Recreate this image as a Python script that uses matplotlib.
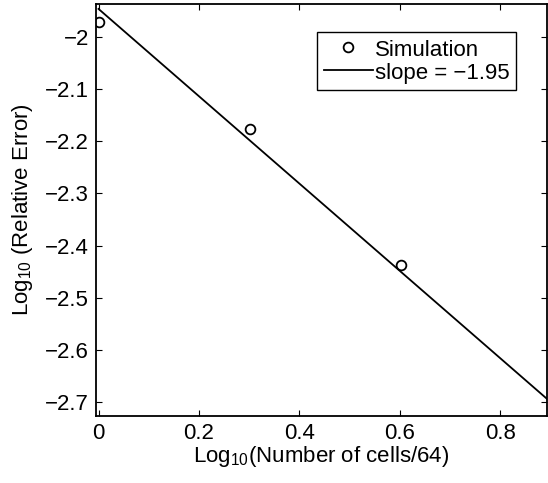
import numpy as np
import matplotlib
matplotlib.use('Agg')
import matplotlib.pyplot as plt

plt.rcParams['font.family'] = ['Liberation Sans', 'DejaVu Sans']
plt.rcParams['mathtext.fontset'] = 'custom'
plt.rcParams['mathtext.rm'] = 'Liberation Sans'
plt.rcParams['mathtext.it'] = 'Liberation Sans:italic'

# simulation points: log10(cells/64) vs log10(relative error)
sim_x = [0.0, 0.301, 0.602]
sim_y = [-1.971, -2.177, -2.438]

# fitted line as drawn in the figure
fit_x = [0.0, 0.9]
fit_y = [-1.946, -2.700]

xticks = [0, 0.2, 0.4, 0.6, 0.8]
yticks = [-2.7, -2.6, -2.5, -2.4, -2.3, -2.2, -2.1, -2]

fs = 16

fig = plt.figure(figsize=(5.48, 4.83), dpi=100)
ax = fig.add_axes([96/548, 1 - 416/483, (547 - 96)/548, (416 - 4)/483])

ax.plot(sim_x, sim_y, 'o', mfc='none', mec='black', ms=7, mew=1.3, label='Simulation')
ax.plot(fit_x, fit_y, '-', color='black', lw=1.3, label='slope = \u22121.95')

ax.set_xlim(-0.005, 0.893)
ax.set_ylim(-2.727, -1.9366)
ax.set_xticks(xticks)
ax.set_xticklabels(['0', '0.2', '0.4', '0.6', '0.8'])
ax.set_yticks(yticks)
ax.set_yticklabels([('\u2212%g' % -v) for v in yticks])

ax.tick_params(direction='in', top=True, right=True, length=4, width=0.8, labelsize=fs, pad=5)
for s in ax.spines.values():
    s.set_linewidth(1.3)

ax.set_xlabel('Log$_{10}$(Number of cells/64)', fontsize=fs, labelpad=0)
ax.set_ylabel('Log$_{10}$ (Relative Error)', fontsize=fs, labelpad=7)

leg = ax.legend(loc='upper left', bbox_to_anchor=((317 - 96)/451, 1 - (32 - 4)/412),
                fontsize=fs, frameon=True, fancybox=False, framealpha=1,
                edgecolor='black', handlelength=2.2, handletextpad=0.1,
                borderpad=0.3, labelspacing=0.05, borderaxespad=0, handleheight=0.9)
leg.get_frame().set_linewidth(1.0)

fig.savefig('out.png', dpi=100)
